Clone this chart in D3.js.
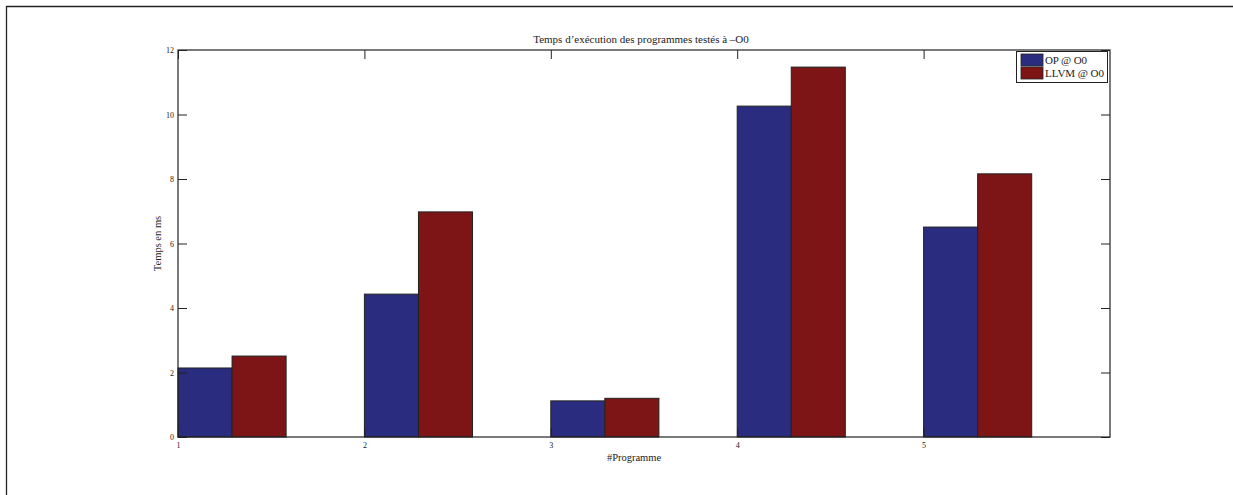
<!DOCTYPE html>
<html><head><meta charset="utf-8">
<script src="https://cdn.jsdelivr.net/npm/d3@7"></script>
<style>body{margin:0;background:#fff}svg{display:block}text{font-family:"Liberation Serif","DejaVu Serif",serif;fill:#222}</style>
</head><body>
<svg id="c" width="1233" height="495"></svg>
<script>
const programmes = [1, 2, 3, 4, 5];
const seriesNames = ["OP @ O0", "LLVM @ O0"];
const opValues = [2.14, 4.43, 1.12, 10.26, 6.51];
const llvmValues = [2.51, 6.98, 1.20, 11.47, 8.16];
const yTicks = [0, 2, 4, 6, 8, 10, 12];
const xTicks = [1, 2, 3, 4, 5];
const colors = ["#2a2d7f", "#7d1416"];

const svg = d3.select("#c");
const L = 178, R = 1110, T = 50, B = 437;
const x = d3.scaleLinear().domain([1, 6]).range([L, R]);
const y = d3.scaleLinear().domain([0, 12]).range([B, T]);
const barW = 0.29;

// outer frame (top & left)
svg.append("path").attr("d", "M6.5,495 V6.5 H1233").attr("fill", "none").attr("stroke", "#222").attr("stroke-width", 1.3);

const series = [opValues, llvmValues];
series.forEach((vals, si) => {
  svg.append("g").selectAll("rect").data(programmes).enter().append("rect")
    .attr("x", (d, i) => x(d + si * barW))
    .attr("width", (d) => x(d + barW) - x(d))
    .attr("y", (d, i) => y(vals[i]))
    .attr("height", (d, i) => y(0) - y(vals[i]))
    .attr("fill", colors[si]).attr("stroke", "#222").attr("stroke-width", 1);
});

// axes
const ax = svg.append("g");
ax.append("rect").attr("x", L).attr("y", T).attr("width", R - L).attr("height", B - T)
  .attr("fill", "none").attr("stroke", "#222").attr("stroke-width", 1.2);

const yl = d3.axisLeft(y).tickValues(yTicks).tickSize(-9).tickPadding(4).tickFormat(d3.format("d"));
const yr = d3.axisRight(y).tickValues(yTicks).tickSize(-9).tickFormat("");
const xb = d3.axisBottom(x).tickValues(xTicks).tickSize(-9).tickPadding(5).tickFormat(d3.format("d"));
const xt = d3.axisTop(x).tickValues(xTicks).tickSize(-9).tickFormat("");
function style(g) {
  g.select(".domain").remove();
  g.selectAll("line").attr("stroke", "#222");
  g.selectAll("text").attr("font-size", 8).attr("fill", "#333").style("font-family", '"Liberation Serif",serif');
}
ax.append("g").attr("transform", `translate(${L},0)`).call(yl).call(style);
ax.append("g").attr("transform", `translate(${R},0)`).call(yr).call(style);
ax.append("g").attr("transform", `translate(0,${B})`).call(xb).call(style);
ax.append("g").attr("transform", `translate(0,${T})`).call(xt).call(style);

// title & labels
svg.append("text").attr("x", (L + R) / 2 - 3).attr("y", 43).attr("text-anchor", "middle").attr("font-size", 11)
  .text("Temps d’exécution des programmes testés à –O0");
svg.append("text").attr("x", 634).attr("y", 461).attr("text-anchor", "middle").attr("font-size", 10.5).text("#Programme");
svg.append("text").attr("transform", `translate(161,${(T + B) / 2}) rotate(-90)`).attr("text-anchor", "middle")
  .attr("font-size", 10.5).text("Temps en ms");

// legend
const lg = svg.append("g");
lg.append("rect").attr("x", 1016.5).attr("y", 51.5).attr("width", 91).attr("height", 31)
  .attr("fill", "#fff").attr("stroke", "#222").attr("stroke-width", 1);
seriesNames.forEach((n, i) => {
  lg.append("rect").attr("x", 1021).attr("y", 54 + i * 13).attr("width", 22).attr("height", 12)
    .attr("fill", colors[i]).attr("stroke", "#222").attr("stroke-width", 0.8);
  lg.append("text").attr("x", 1045).attr("y", 63.5 + i * 13).attr("font-size", 11).attr("textLength", i === 0 ? 42 : 59).text(n);
});
</script>
</body></html>
